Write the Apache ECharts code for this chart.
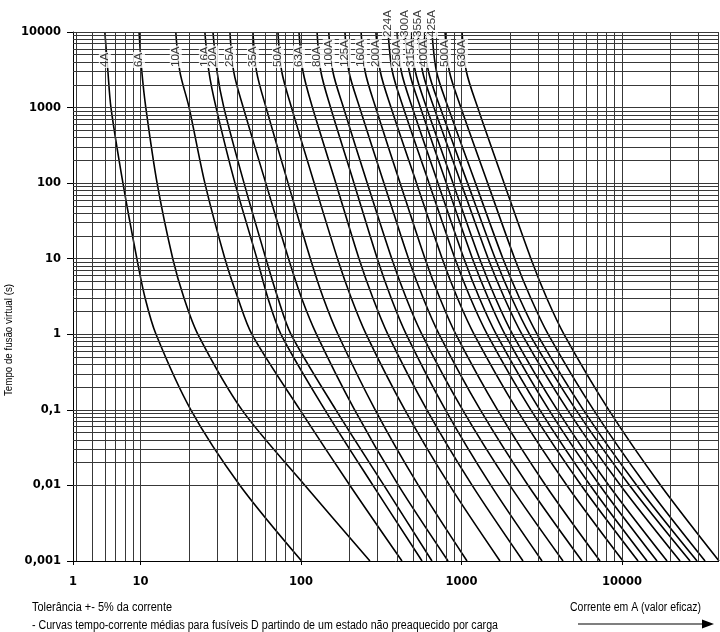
<!DOCTYPE html>
<html><head><meta charset="utf-8">
<script src="https://cdn.jsdelivr.net/npm/echarts@6/dist/echarts.min.js"></script>
<style>html,body{margin:0;padding:0;background:#fff}#c{width:720px;height:632px}</style>
</head><body><div id="c"></div>
<script>
// time levels (s) at which each curve's current (A) was read
const times = [10000, 3000, 1000, 100, 10, 3, 1, 0.1, 0.01, 0.001];
const fuseNames = ['4A','6A','10A','16A','20A','25A','35A','50A','63A','80A','100A','125A','160A','200A','224A','250A','300A','315A','355A','400A','425A','500A','630A'];
const c4A   = [6.0, 6.27, 6.55, 7.78, 9.5, 10.7, 12.5, 20.6, 41.7, 101];
const c6A   = [9.8, 10.2, 10.8, 12.7, 15.9, 18.7, 22.8, 42.9, 106, 269];
const c10A  = [16.6, 17.6, 20.1, 25.2, 33.6, 40.5, 49.5, 98.6, 202, 426];
const c16A  = [25.2, 26.7, 29.6, 38.8, 53.2, 62.3, 75.1, 141, 281, 568];
const c20A  = [28.3, 30.0, 33.1, 44.2, 60.5, 71.9, 86.7, 165, 329, 655];
const c25A  = [36.1, 38.1, 43.7, 60.4, 83.7, 101, 125, 216, 405, 825];
const c35A  = [50.2, 52.9, 60.6, 83.1, 114.5, 138, 170, 290, 539, 1083];
const c50A  = [71.9, 75.9, 87.3, 121, 169, 206, 255, 444, 844, 1738];
const c63A  = [97.2, 103, 118, 165, 230, 281, 348, 609, 1166, 2418];
const c80A  = [126, 133, 153, 214, 299, 365, 453, 795, 1526, 3176];
const c100A = [149, 158, 184, 259, 368, 453, 567, 1017, 2003, 4293];
const c125A = [188, 199, 232, 329, 468, 578, 726, 1311, 2605, 5638];
const c160A = [237, 251, 292, 415, 593, 734, 923, 1677, 3349, 7300];
const c200A = [293, 312, 364, 525, 759, 945, 1199, 2219, 4540, 10155];
const c224A = [349, 371, 434, 628, 912, 1138, 1449, 2705, 5582, 12600];
const c250A = [397, 422, 494, 714, 1037, 1295, 1648, 3078, 6352, 14330];
const c300A = [445, 473, 555, 805, 1171, 1468, 1867, 3506, 7280, 16540];
const c315A = [485, 516, 606, 886, 1297, 1630, 2083, 3950, 8294, 19100];
const c355A = [536, 572, 674, 994, 1468, 1854, 2383, 4586, 9797, 23010];
const c400A = [584, 623, 737, 1092, 1625, 2060, 2658, 5167, 11160, 26560];
const c425A = [655, 699, 827, 1223, 1814, 2300, 2965, 5745, 12380, 29370];
const c500A = [790, 841, 992, 1456, 2147, 2705, 3471, 6651, 14130, 32940];
const c630A = [1008, 1073, 1262, 1843, 2709, 3402, 4355, 8271, 17450, 40270];
const xTickLabels = ['1', '10', '100', '1000', '10000'];
const yTickLabels = ['0,001', '0,01', '0,1', '1', '10', '100', '1000', '10000'];

const curves = [c4A,c6A,c10A,c16A,c20A,c25A,c35A,c50A,c63A,c80A,c100A,c125A,c160A,c200A,c224A,c250A,c300A,c315A,c355A,c400A,c425A,c500A,c630A];

// ---- styling / layout (not data) ----
const X_MIN = 3.8, X_MAX = 40000, Y_MIN = 0.001, Y_MAX = 10000;
const upperRow = ['224A','300A','355A','425A'];
const LABEL_T_LOW = 3340, LABEL_T_HIGH = 8330;   // where the rotated names start (their lower end)
const SANS = "'Liberation Sans',Arial,sans-serif";
const AXISFONT = "'DejaVu Sans',sans-serif";
const GRID_COLOR = '#383838';

const mctx = document.createElement('canvas').getContext('2d');
function fitScale(text, font, target) { mctx.font = font; return target / mctx.measureText(text).width; }

function logGrid(lo, hi) {
  const out = [];
  for (let e = -3; e <= 5; e++) for (let m = 1; m <= 9; m++) {
    const v = parseFloat((m * Math.pow(10, e)).toPrecision(6));
    if (v >= lo * 0.9999 && v <= hi * 1.0001) out.push(v);
  }
  return out;
}
const xGrid = logGrid(4, X_MAX);
const yGrid = logGrid(Y_MIN, Y_MAX);
const isPow10 = v => { const e = Math.log10(v); return Math.abs(e - Math.round(e)) < 1e-6; };

const series = curves.map((c, i) => ({
  name: fuseNames[i], type: 'line', silent: true, symbol: 'none',
  smooth: 0.3, z: 3,
  lineStyle: { color: '#000', width: 1.6 },
  data: times.map((t, k) => [c[k], t])
}));
series.push({
  type: 'line', data: [], silent: true, z: 1,
  markLine: {
    silent: true, symbol: 'none', animation: false,
    label: { show: false },
    lineStyle: { color: GRID_COLOR, width: 1, type: 'solid' },
    emphasis: { disabled: true },
    data: xGrid.map(v => ({ xAxis: v })).concat(yGrid.map(v => ({ yAxis: v })))
  }
});
series.push({
  type: 'scatter', clip: false, silent: true, symbolSize: 0, z: 5,
  data: curves.map((c, i) => ({ name: fuseNames[i], value: [c[0], upperRow.includes(fuseNames[i]) ? LABEL_T_HIGH : LABEL_T_LOW] })),
  label: {
    show: true, position: 'inside', rotate: 90, align: 'left', verticalAlign: 'middle',
    formatter: p => p.name,
    fontFamily: SANS, fontSize: 11.5, color: '#000',
    backgroundColor: '#fff', padding: [0, 1, 0, 1]
  }
});

const T1 = 'Tempo de fusão virtual (s)';
const T2 = 'Tolerância +- 5% da corrente';
const T3 = '- Curvas tempo-corrente médias para fusíveis D partindo de um estado não preaquecido por carga';
const T4 = 'Corrente em A (valor eficaz)';
const F10 = '10px ' + SANS, F12 = '12px ' + SANS;

const chart = echarts.init(document.getElementById('c'));
chart.setOption({
  animation: false,
  backgroundColor: '#fff',
  grid: { left: 73, top: 32, width: 645.6, height: 529 },
  xAxis: {
    type: 'log', logBase: 10, min: X_MIN, max: X_MAX, splitNumber: 4,
    axisLine: { show: true, lineStyle: { color: '#000', width: 1 } },
    axisTick: { show: true, length: 4, lineStyle: { color: '#000' } },
    splitLine: { show: false }, minorTick: { show: false },
    axisLabel: {
      showMinLabel: true, showMaxLabel: false, margin: 15,
      fontFamily: AXISFONT, fontWeight: 'bold', fontSize: 11.5, color: '#000',
      formatter: v => {
        if (isPow10(v)) return xTickLabels[Math.round(Math.log10(v))] || '';
        if (Math.abs(v - X_MIN) < 1e-6 * X_MIN) return xTickLabels[0];
        return '';
      }
    }
  },
  yAxis: {
    type: 'log', logBase: 10, min: Y_MIN, max: Y_MAX, splitNumber: 7,
    axisLine: { show: true, lineStyle: { color: '#000', width: 1 } },
    axisTick: { show: true, length: 6, lineStyle: { color: '#000' } },
    splitLine: { show: false },
    axisLabel: {
      margin: 12, fontFamily: AXISFONT, fontWeight: 'bold', fontSize: 11.5, color: '#000',
      formatter: v => isPow10(v) ? (yTickLabels[Math.round(Math.log10(v)) + 3] || '') : ''
    }
  },
  graphic: [
    { type: 'text', x: 9, y: 340, rotation: Math.PI / 2, scaleX: fitScale(T1, F10, 112),
      style: { text: T1, font: F10, fill: '#000', align: 'center', verticalAlign: 'middle' } },
    { type: 'text', x: 32, y: 608, scaleX: fitScale(T2, F12, 140),
      style: { text: T2, font: F12, fill: '#000', align: 'left', verticalAlign: 'middle' } },
    { type: 'text', x: 32, y: 626, scaleX: fitScale(T3, F12, 466),
      style: { text: T3, font: F12, fill: '#000', align: 'left', verticalAlign: 'middle' } },
    { type: 'text', x: 570, y: 608, scaleX: fitScale(T4, F12, 131),
      style: { text: T4, font: F12, fill: '#000', align: 'left', verticalAlign: 'middle' } },
    { type: 'line', shape: { x1: 578, y1: 624, x2: 704, y2: 624 }, style: { stroke: '#000', lineWidth: 1.2 } },
    { type: 'polygon', shape: { points: [[702, 619.5], [714, 624], [702, 628.5]] }, style: { fill: '#000' } }
  ],
  series
});
</script></body></html>
